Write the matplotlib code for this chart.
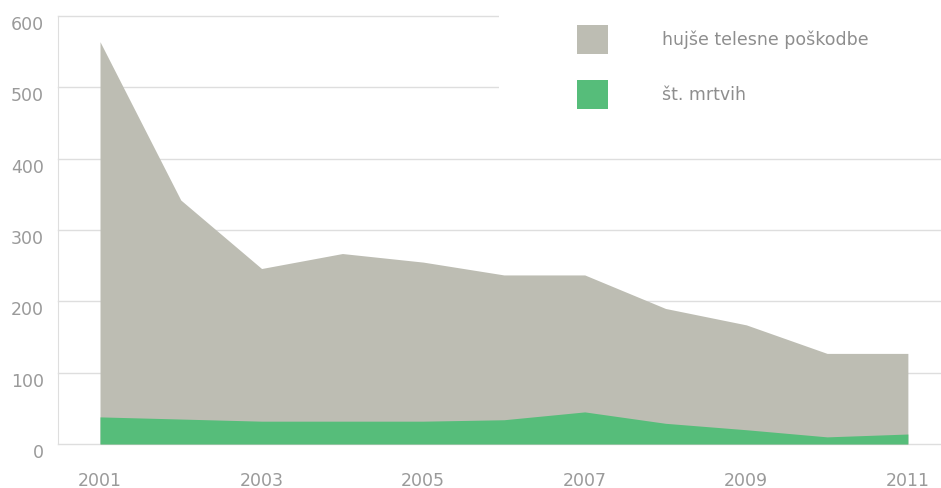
import matplotlib.pyplot as plt
from matplotlib.patches import Patch, Rectangle

# Data
years = [2001, 2002, 2003, 2004, 2005, 2006, 2007, 2008, 2009, 2010, 2011]
injuries = [564, 342, 246, 267, 255, 237, 237, 190, 167, 127, 127]
deaths = [38, 35, 32, 32, 32, 34, 45, 29, 20, 10, 14]
labels = ["hujše telesne poškodbe", "št. mrtvih"]
xticks = [2001, 2003, 2005, 2007, 2009, 2011]
yticks = [0, 100, 200, 300, 400, 500, 600]

gray = "#bdbdb3"
green = "#56bd7a"
text_col = "#9a9a9a"
legend_col = "#8e8e8e"
grid_col = "#dedede"

plt.rcParams['font.family'] = ['DejaVu Sans']

fig = plt.figure(figsize=(9.41, 4.88), dpi=100)
# axes box in pixels: left 58, right 941, y=0 at 444, y=600 at 16
ax = fig.add_axes([58 / 941, (488 - 444) / 488, (941 - 58) / 941, (444 - 16) / 488])

ax.fill_between(years, 0, injuries, color=gray, linewidth=0, zorder=2)
ax.fill_between(years, 0, deaths, color=green, linewidth=0, zorder=3)

ax.set_xlim(2000.48, 2011.41)
ax.set_ylim(0, 600)
ax.set_xticks(xticks)
ax.set_yticks(yticks)
ax.set_xticklabels([str(x) for x in xticks])

for y in yticks:
    ax.axhline(y, color=grid_col, linewidth=1, zorder=1, clip_on=False)

for s in ["top", "right", "bottom"]:
    ax.spines[s].set_visible(False)
ax.spines["left"].set_color(grid_col)

ax.tick_params(axis="both", length=0, colors=text_col, labelsize=12.5)
ax.tick_params(axis="y", pad=10)
ax.tick_params(axis="x", pad=20)
for lab in ax.get_yticklabels():
    lab.set_verticalalignment("top")

# white block behind the legend hides the upper gridlines
ax.add_patch(Rectangle((499 / 941, 1 - 135 / 488), 1, 135 / 488, transform=fig.transFigure,
                       facecolor="white", edgecolor="none", clip_on=False, zorder=4))

handles = [Patch(facecolor=gray, edgecolor="none"), Patch(facecolor=green, edgecolor="none")]
leg = fig.legend(handles, labels, loc="upper left", bbox_to_anchor=(577 / 941, 1 - 25 / 488),
                 frameon=False, fontsize=12.5, labelcolor=legend_col,
                 handlelength=1.8, handleheight=2.15, handletextpad=3.1,
                 labelspacing=1.55, borderpad=0, borderaxespad=0)
leg.set_zorder(5)

fig.savefig("out.png", dpi=100)
